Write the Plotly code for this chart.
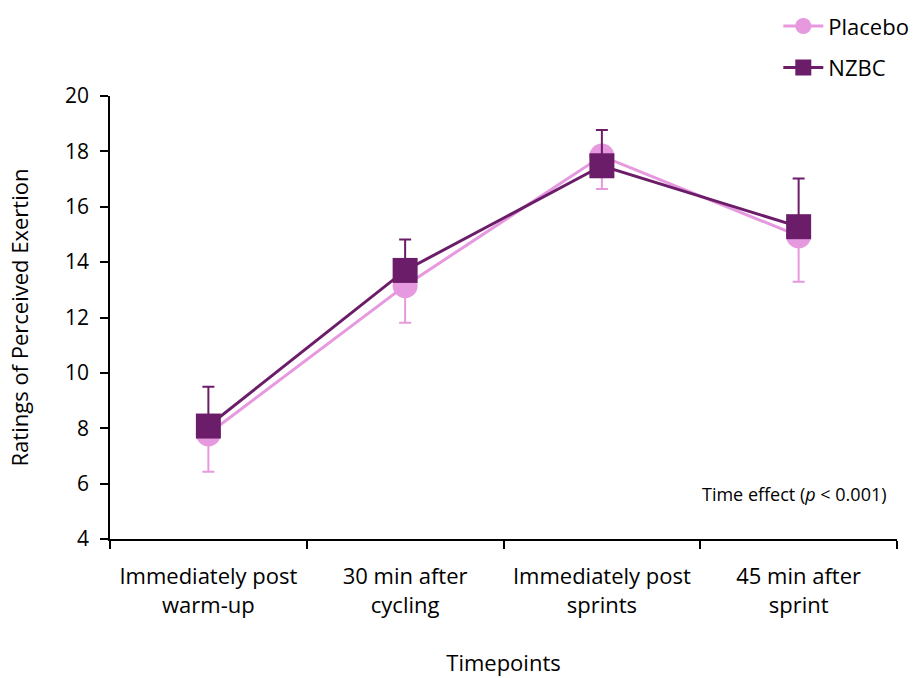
import plotly.graph_objects as go

categories = ["Immediately post<br>warm-up", "30 min after<br>cycling", "Immediately post<br>sprints", "45 min after<br>sprint"]
placebo_mean = [7.8, 13.15, 17.83, 14.95]
placebo_err_minus = [1.37, 1.34, 1.19, 1.66]
nzbc_mean = [8.08, 13.7, 17.48, 15.28]
nzbc_err_plus = [1.42, 1.12, 1.29, 1.74]

PINK = "#E699DE"
PURPLE = "#6B1D69"
FONT = "'Open Sans', sans-serif"

fig = go.Figure()
fig.add_trace(go.Scatter(
    x=categories, y=placebo_mean, name="Placebo", mode="lines+markers",
    line=dict(color=PINK, width=3),
    marker=dict(symbol="circle", size=25, color=PINK),
    error_y=dict(type="data", symmetric=False, array=[0] * 4, arrayminus=placebo_err_minus,
                 color=PINK, thickness=2, width=6),
    legendgroup="a",
))
fig.add_trace(go.Scatter(
    x=categories, y=nzbc_mean, name="NZBC", mode="lines+markers",
    line=dict(color=PURPLE, width=3),
    marker=dict(symbol="square", size=25, color=PURPLE),
    error_y=dict(type="data", symmetric=False, array=nzbc_err_plus, arrayminus=[0] * 4,
                 color=PURPLE, thickness=2, width=6),
    legendgroup="b",
))

fig.add_annotation(
    text="Time effect (<i>p</i> < 0.001)", xref="paper", yref="paper",
    x=0.99, y=0.102, xanchor="right", yanchor="middle", showarrow=False,
    font=dict(size=18, color="black", family=FONT),
)

fig.update_layout(
    width=918, height=678,
    margin=dict(l=110, r=21, t=96, b=139, autoexpand=False),
    paper_bgcolor="white", plot_bgcolor="white",
    font=dict(family=FONT, size=22, color="black"),
    showlegend=True,
    legend=dict(x=1.022, y=1.205, xanchor="right", yanchor="top",
                font=dict(size=22), tracegroupgap=10, bgcolor="rgba(0,0,0,0)",
                itemwidth=40),
    xaxis=dict(
        type="category", range=[-0.5, 3.5], showline=True, linecolor="black", linewidth=1.5,
        ticks="outside", tickson="boundaries", ticklen=8, tickcolor="black", tickwidth=1.5,
        showgrid=False, zeroline=False, tickfont=dict(size=22), ticklabelstandoff=17,
        title=dict(text="Timepoints", font=dict(size=22), standoff=38),
    ),
    yaxis=dict(
        range=[4, 20], dtick=2, showline=True, linecolor="black", linewidth=1.5,
        ticks="outside", ticklen=8, tickcolor="black", tickwidth=1.5,
        showgrid=False, zeroline=False, tickfont=dict(size=21), ticklabelstandoff=7,
        title=dict(text="Ratings of Perceived Exertion", font=dict(size=22), standoff=30),
    ),
)

fig.write_html("out.html")
